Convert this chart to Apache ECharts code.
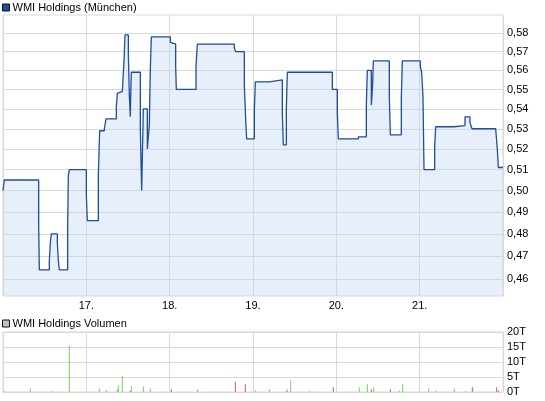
<!DOCTYPE html>
<html>
<head>
<meta charset="utf-8">
<script src="https://cdn.jsdelivr.net/npm/echarts@6/dist/echarts.min.js"></script>
<style>
html,body{margin:0;padding:0;background:#fff;}
#chart{width:545px;height:401px;}
</style>
</head>
<body>
<div id="chart"></div>
<script>
// ---- data ----
const priceName = 'WMI Holdings (München)';
const volumeName = 'WMI Holdings Volumen';
// time in days (day of month, fractional)
const priceTimes = [16.0,16.016,16.428,16.436,16.556,16.568,16.58,16.652,16.664,16.676,16.776,16.784,16.796,17.0,17.012,17.144,17.16,17.216,17.236,17.36,17.372,17.392,17.432,17.452,17.464,17.504,17.516,17.528,17.532,17.54,17.648,17.664,17.684,17.732,17.756,17.768,17.78,18.008,18.024,18.072,18.08,18.316,18.332,18.776,18.792,18.896,18.912,18.924,19.016,19.028,19.196,19.352,19.364,19.4,19.412,19.952,20.012,20.024,20.264,20.36,20.372,20.42,20.436,20.444,20.636,20.648,20.78,20.792,21.008,21.024,21.04,21.052,21.18,21.192,21.412,21.544,21.604,21.628,21.912,21.932,21.944,22.0];
const priceValues = [0.500,0.505,0.484,0.464,0.468,0.476,0.480,0.476,0.468,0.464,0.484,0.507,0.510,0.498,0.486,0.507,0.529,0.530,0.535,0.541,0.548,0.549,0.550,0.565,0.579,0.569,0.547,0.536,0.546,0.559,0.529,0.500,0.540,0.520,0.532,0.561,0.578,0.575,0.574,0.562,0.550,0.562,0.574,0.572,0.570,0.552,0.535,0.525,0.539,0.554,0.555,0.538,0.522,0.540,0.559,0.550,0.538,0.525,0.526,0.542,0.560,0.542,0.553,0.565,0.546,0.527,0.546,0.565,0.562,0.559,0.546,0.510,0.521,0.531,0.5316,0.536,0.533,0.530,0.5295,0.520,0.511,0.511];
const volTimes = [16.016,16.328,16.58,16.796,17.156,17.24,17.372,17.384,17.432,17.528,17.54,17.684,17.768,18.02,18.336,18.788,18.908,19.028,19.196,19.392,19.412,19.452,19.676,19.964,20.276,20.372,20.42,20.448,20.648,20.756,20.796,21.108,21.192,21.416,21.552,21.632,21.924,21.944];
const volValues = [0.3,1.2,0.3,15.4,1.2,0.7,0.9,2.2,5.3,0.5,1.9,1.9,1.2,0.9,0.9,3.3,2.6,0.5,0.9,0.3,0.9,3.9,0.3,1.6,1.6,2.6,0.9,1.6,0.9,0.5,2.6,1.2,0.5,1.2,0.3,1.6,1.6,0.5];
const volDir = ['up','flat','up','up','up','up','up','up','up','down','up','up','up','down','up','down','down','up','up','flat','up','flat','flat','down','up','up','down','up','down','flat','up','flat','up','up','up','down','down','down'];
const priceTicks = [0.46,0.47,0.48,0.49,0.50,0.51,0.52,0.53,0.54,0.55,0.56,0.57,0.58];
const volTicks = [0,5,10,15,20];
const dayTicks = [17,18,19,20,21];

// ---- styles ----
const FONT = 'Liberation Sans';
const dirColor = {up:'#66dd55', down:'#dd5555', flat:'#aaaaaa'};
const gridColor = '#d9d9d9';

const chart = echarts.init(document.getElementById('chart'), null, {renderer:'canvas'});
const xAxisCommon = {
  type:'value', min:16, max:22, interval:1,
  axisLine:{show:false}, axisTick:{show:false},
  splitLine:{show:true, lineStyle:{color:gridColor, width:1}}
};
chart.setOption({
  animation:false,
  textStyle:{fontFamily:FONT},
  legend:[
    {left:2, top:2, padding:0, itemWidth:7, itemHeight:7,
     textStyle:{fontSize:11, color:'#000', fontFamily:FONT, padding:[0,0,0,-2]},
     data:[{name:priceName, icon:'rect', itemStyle:{color:'#1f4e9c', borderColor:'#111', borderWidth:1}}]},
    {left:2, top:318, padding:0, itemWidth:7, itemHeight:7,
     textStyle:{fontSize:11, color:'#000', fontFamily:FONT, padding:[0,0,0,-2]},
     data:[{name:volumeName, icon:'rect', itemStyle:{color:'#c0c0c0', borderColor:'#111', borderWidth:1}}]}
  ],
  grid:[
    {left:3, right:42, top:15, height:281, show:true, borderColor:gridColor, borderWidth:1, backgroundColor:'transparent'},
    {left:3, right:42, top:332, height:60, show:true, borderColor:gridColor, borderWidth:1, backgroundColor:'transparent'}
  ],
  xAxis:[
    Object.assign({gridIndex:0,
      axisLabel:{show:true, margin:4, fontSize:11, color:'#000', fontFamily:FONT,
        customValues:dayTicks, formatter:v=>v+'.'}}, xAxisCommon),
    Object.assign({gridIndex:1, axisLabel:{show:false}}, xAxisCommon)
  ],
  yAxis:[
    {gridIndex:0, type:'log', position:'right', min:0.4527, max:0.590,
     axisLine:{show:false},
     axisTick:{show:false, customValues:priceTicks},
     axisLabel:{show:true, margin:4, fontSize:11, color:'#000', fontFamily:FONT, customValues:priceTicks,
       formatter:v=>v.toFixed(2).replace('.',',')},
     splitLine:{show:true, lineStyle:{color:gridColor, width:1}}},
    {gridIndex:1, type:'value', position:'right', min:0, max:20, interval:5,
     axisLine:{show:false}, axisTick:{show:false},
     axisLabel:{show:true, margin:4, fontSize:11, color:'#000', fontFamily:FONT, formatter:v=>v+'T'},
     splitLine:{show:true, lineStyle:{color:gridColor, width:1}}}
  ],
  series:[
    {name:priceName, type:'line', xAxisIndex:0, yAxisIndex:0, step:'end',
     showSymbol:false, symbol:'none',
     lineStyle:{color:'#1f4e9c', width:1.3},
     itemStyle:{color:'#1f4e9c'},
     areaStyle:{color:'rgba(190,212,243,0.52)', origin:'start'},
     data:priceTimes.map((t,i)=>[t, priceValues[i]])},
    {name:volumeName, type:'bar', xAxisIndex:1, yAxisIndex:1, barWidth:1,
     itemStyle:{color:'#c0c0c0'},
     data:volTimes.map((t,i)=>({value:[t, volValues[i]], itemStyle:{color:dirColor[volDir[i]]}}))}
  ]
});
</script>
</body>
</html>
